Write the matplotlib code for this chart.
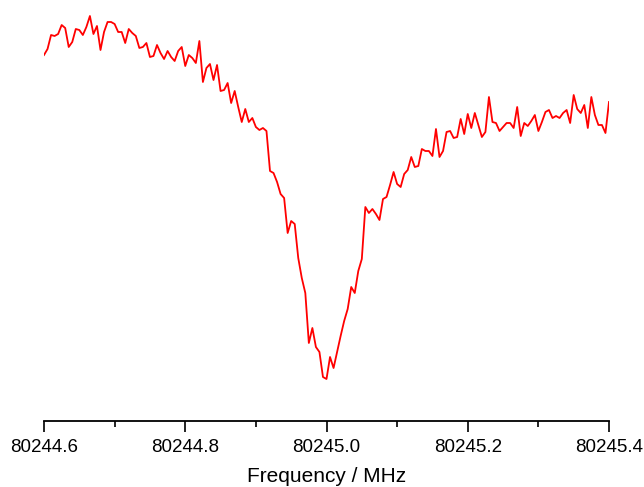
"""Absorption line near 80245 MHz, red trace on a bare frequency axis."""

import numpy as np
import matplotlib
matplotlib.use("Agg")
import matplotlib.pyplot as plt
from matplotlib.ticker import FormatStrFormatter, MultipleLocator

plt.rcParams["font.family"] = ["Liberation Sans", "DejaVu Sans"]

# frequency grid: 80244.6 .. 80245.4 MHz, 0.005 MHz step (161 points)
freq_start = 80244.6
freq_step = 0.005

# signal, arbitrary units
signal = [
    366, 372, 386, 385, 387, 396, 393, 374, 379, 392,
    391, 386, 394, 405, 387, 395, 371, 389, 399, 399,
    397, 389, 389, 378, 392, 388, 385, 373, 374, 378,
    364, 365, 376, 368, 362, 370, 364, 360, 370, 374,
    355, 366, 363, 358, 380, 339, 353, 357, 341, 356,
    330, 331, 338, 318, 330, 314, 299, 312, 299, 303,
    294, 291, 293, 290, 250, 248, 239, 227, 223, 188,
    200, 197, 163, 143, 128, 78, 93, 74, 69, 44,
    42, 64, 53, 69, 85, 100, 112, 134, 128, 150,
    162, 214, 208, 212, 207, 201, 222, 224, 236, 249,
    237, 234, 247, 251, 264, 254, 255, 272, 270, 270,
    265, 292, 264, 270, 289, 290, 283, 284, 302, 287,
    307, 293, 308, 296, 284, 289, 324, 299, 298, 290,
    294, 298, 298, 293, 314, 285, 298, 295, 300, 306,
    290, 299, 309, 311, 303, 305, 303, 308, 311, 298,
    326, 312, 308, 316, 293, 324, 306, 296, 296, 288,
    319,
]

freq = freq_start + freq_step * np.arange(len(signal))

fig = plt.figure(figsize=(6.44, 4.87), dpi=100)
ax = fig.add_axes([44 / 644, 66 / 487, 565 / 644, 421 / 487])

ax.plot(freq, signal, color="#ff0000", lw=1.3)

ax.set_xlim(80244.6, 80245.4)
ax.set_ylim(0, 421)

for side in ["top", "right", "left"]:
    ax.spines[side].set_visible(False)
ax.spines["bottom"].set_linewidth(1.3)
ax.set_yticks([])

ax.xaxis.set_major_locator(MultipleLocator(0.2))
ax.xaxis.set_minor_locator(MultipleLocator(0.1))
ax.xaxis.set_major_formatter(FormatStrFormatter("%.1f"))
ax.tick_params(axis="x", which="major", length=8, width=1.3, labelsize=13.5, pad=5, color="#111111")
ax.tick_params(axis="x", which="minor", length=4, width=1.3, color="#111111")
ax.set_xlabel("Frequency / MHz", fontsize=15, labelpad=8)

fig.savefig("out.png", dpi=100)
